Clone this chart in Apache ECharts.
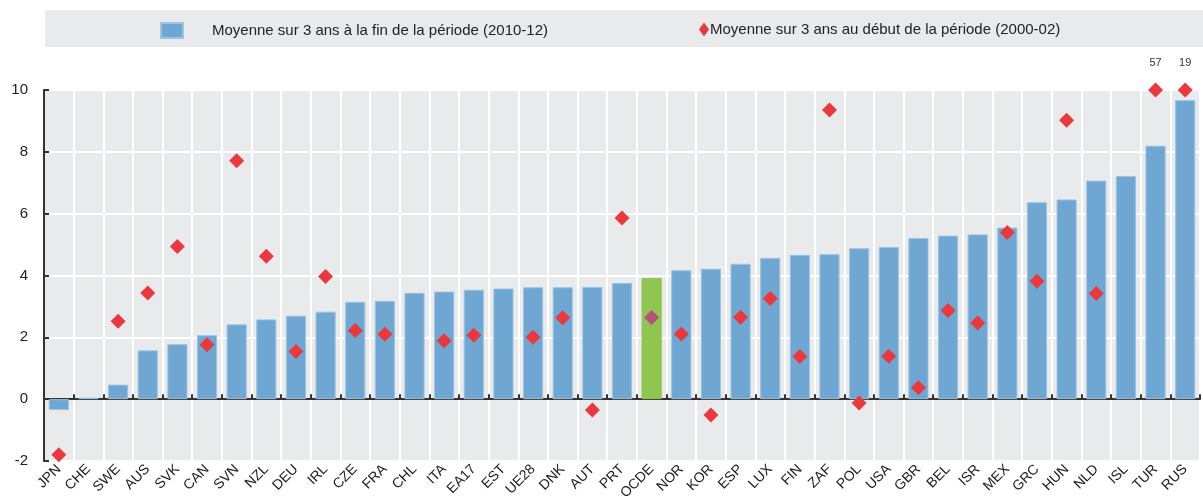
<!DOCTYPE html>
<html><head><meta charset="utf-8">
<script src="https://cdn.jsdelivr.net/npm/echarts@6/dist/echarts.min.js"></script>
<style>html,body{margin:0;padding:0;background:#fff}#c{width:1203px;height:500px}</style>
</head><body><div id="c"></div>
<script>
var categories = ['JPN','CHE','SWE','AUS','SVK','CAN','SVN','NZL','DEU','IRL','CZE','FRA','CHL','ITA','EA17','EST','UE28','DNK','AUT','PRT','OCDE','NOR','KOR','ESP','LUX','FIN','ZAF','POL','USA','GBR','BEL','ISR','MEX','GRC','HUN','NLD','ISL','TUR','RUS'];
var endPeriod = [-0.35,0.05,0.47,1.58,1.78,2.07,2.42,2.58,2.70,2.83,3.15,3.18,3.44,3.48,3.54,3.58,3.62,3.62,3.63,3.76,3.92,4.17,4.22,4.38,4.57,4.67,4.69,4.88,4.92,5.21,5.29,5.33,5.55,6.37,6.46,7.07,7.22,8.20,9.67];
var startPeriod = [-1.80,null,2.52,3.43,4.94,1.76,7.71,4.62,1.54,3.97,2.22,2.10,null,1.89,2.07,null,2.00,2.63,-0.35,5.86,2.64,2.11,-0.51,2.65,3.26,1.38,9.35,-0.12,1.39,0.37,2.87,2.46,5.39,3.81,9.02,3.42,null,57,19];
var yTicks = {min:-2, max:10, interval:2};
var highlight = 'OCDE';
var nameEnd = 'Moyenne sur 3 ans à la fin de la période (2010-12)';
var nameStart = 'Moyenne sur 3 ans au début de la période (2000-02)';

var FONT = '"Liberation Sans Narrow","Arial Narrow","Liberation Sans",Arial,sans-serif';
var chart = echarts.init(document.getElementById('c'), null, {renderer:'canvas'});

var barData = endPeriod.map(function(v,i){
  if (categories[i] === highlight) return {value:v, itemStyle:{color:'#8fc550', borderColor:'#8fc550'}};
  return v;
});
var dotData = startPeriod.map(function(v,i){
  if (v === null) return {value:null};
  var item = {value: Math.min(v, yTicks.max)};
  if (v > yTicks.max) item.label = {show:true, formatter: String(v)};
  if (categories[i] === highlight) item.itemStyle = {color:'#b5527c'};
  return item;
});

chart.setOption({
  animation:false,
  textStyle:{fontFamily:FONT},
  graphic:[{type:'rect', left:45, top:10, shape:{width:1158, height:37}, style:{fill:'#e9eaec'}, z:-1}],
  legend:[{
    left:160, top:22, padding:0, itemWidth:22, itemHeight:15, icon:'rect',
    data:[{name:nameEnd}],
    textStyle:{fontFamily:FONT, fontSize:15, color:'#222', padding:[0,0,0,24]}
  },{
    left:699, top:22, padding:0, itemWidth:10, itemHeight:14, icon:'diamond',
    data:[{name:nameStart}],
    textStyle:{fontFamily:FONT, fontSize:15, color:'#222', padding:[0,0,0,-4]}
  }],
  grid:{left:44, right:3, top:90, bottom:39, show:true, backgroundColor:'#e9eaec', borderWidth:0, containLabel:false, outerBoundsMode:'none'},
  xAxis:{
    type:'category', data:categories,
    axisLine:{onZero:true, lineStyle:{color:'#333', width:2}},
    axisTick:{show:true, inside:true, length:5, lineStyle:{color:'#333', width:2}},
    splitLine:{show:true, lineStyle:{color:'#ffffff', width:2}},
    axisLabel:{rotate:45, fontSize:14, color:'#222', margin:6, interval:0, fontFamily:FONT}
  },
  yAxis:{
    type:'value', min:yTicks.min, max:yTicks.max, interval:yTicks.interval,
    axisLine:{show:true, lineStyle:{color:'#333', width:2}},
    axisTick:{show:true, inside:true, length:5, lineStyle:{color:'#333', width:2}},
    splitLine:{show:true, lineStyle:{color:'#ffffff', width:2}},
    axisLabel:{fontSize:15, color:'#222', margin:16, fontFamily:FONT}
  },
  series:[{
    name:nameEnd, type:'bar', data:barData, barCategoryGap:'32%',
    itemStyle:{color:'#6fa6d2', borderColor:'#9cc3e2', borderWidth:1}
  },{
    name:nameStart, type:'scatter', data:dotData, symbol:'diamond', symbolSize:[15,15],
    itemStyle:{color:'#e8393f', opacity:1}, z:5,
    label:{show:false, position:'top', distance:14, fontSize:11, color:'#333', fontFamily:FONT}
  }]
});
</script></body></html>
